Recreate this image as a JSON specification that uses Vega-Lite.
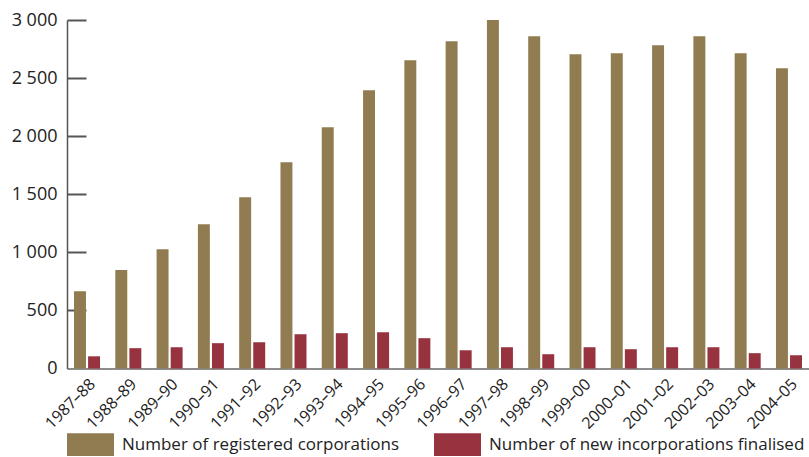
{
  "$schema": "https://vega.github.io/schema/vega-lite/v6.json",
  "width": 742,
  "height": 348.5,
  "autosize": {"type": "none"},
  "padding": {"left": 67, "top": 20, "right": 0, "bottom": 88.5},
  "config": {
    "view": {"stroke": null},
    "font": "Open Sans",
    "axis": {"grid": false}
  },
  "data": {
    "values": [
      {"year": "1987–88", "series": "Number of registered corporations", "value": 665},
      {"year": "1987–88", "series": "Number of new incorporations finalised", "value": 105},
      {"year": "1988–89", "series": "Number of registered corporations", "value": 848},
      {"year": "1988–89", "series": "Number of new incorporations finalised", "value": 175},
      {"year": "1989–90", "series": "Number of registered corporations", "value": 1027},
      {"year": "1989–90", "series": "Number of new incorporations finalised", "value": 183},
      {"year": "1990–91", "series": "Number of registered corporations", "value": 1242},
      {"year": "1990–91", "series": "Number of new incorporations finalised", "value": 218},
      {"year": "1991–92", "series": "Number of registered corporations", "value": 1474},
      {"year": "1991–92", "series": "Number of new incorporations finalised", "value": 226},
      {"year": "1992–93", "series": "Number of registered corporations", "value": 1775},
      {"year": "1992–93", "series": "Number of new incorporations finalised", "value": 295},
      {"year": "1993–94", "series": "Number of registered corporations", "value": 2077},
      {"year": "1993–94", "series": "Number of new incorporations finalised", "value": 304},
      {"year": "1994–95", "series": "Number of registered corporations", "value": 2395},
      {"year": "1994–95", "series": "Number of new incorporations finalised", "value": 312},
      {"year": "1995–96", "series": "Number of registered corporations", "value": 2653},
      {"year": "1995–96", "series": "Number of new incorporations finalised", "value": 261},
      {"year": "1996–97", "series": "Number of registered corporations", "value": 2817},
      {"year": "1996–97", "series": "Number of new incorporations finalised", "value": 157},
      {"year": "1997–98", "series": "Number of registered corporations", "value": 3000},
      {"year": "1997–98", "series": "Number of new incorporations finalised", "value": 183},
      {"year": "1998–99", "series": "Number of registered corporations", "value": 2860},
      {"year": "1998–99", "series": "Number of new incorporations finalised", "value": 123},
      {"year": "1999–00", "series": "Number of registered corporations", "value": 2705},
      {"year": "1999–00", "series": "Number of new incorporations finalised", "value": 183},
      {"year": "2000–01", "series": "Number of registered corporations", "value": 2714},
      {"year": "2000–01", "series": "Number of new incorporations finalised", "value": 166},
      {"year": "2001–02", "series": "Number of registered corporations", "value": 2782},
      {"year": "2001–02", "series": "Number of new incorporations finalised", "value": 183},
      {"year": "2002–03", "series": "Number of registered corporations", "value": 2860},
      {"year": "2002–03", "series": "Number of new incorporations finalised", "value": 183},
      {"year": "2003–04", "series": "Number of registered corporations", "value": 2714},
      {"year": "2003–04", "series": "Number of new incorporations finalised", "value": 132},
      {"year": "2004–05", "series": "Number of registered corporations", "value": 2584},
      {"year": "2004–05", "series": "Number of new incorporations finalised", "value": 114}
    ]
  },
  "encoding": {
    "x": {
      "field": "year",
      "type": "nominal",
      "sort": null,
      "scale": {"paddingInner": 0.37, "paddingOuter": 0.17},
      "axis": {
        "title": null,
        "labelAngle": -45,
        "labelFontSize": 16,
        "labelColor": "#222",
        "ticks": false,
        "labelPadding": 7,
        "domainColor": "#666",
        "domainWidth": 1.5
      }
    },
    "xOffset": {
      "field": "series",
      "type": "nominal",
      "scale": {
        "domain": ["Number of registered corporations", "Number of new incorporations finalised"],
        "paddingInner": 0.15,
        "paddingOuter": 0
      }
    },
    "color": {
      "field": "series",
      "type": "nominal",
      "scale": {
        "domain": ["Number of registered corporations", "Number of new incorporations finalised"],
        "range": ["#917C51", "#97323F"]
      },
      "legend": {
        "title": null,
        "orient": "none",
        "legendX": 0,
        "legendY": 401,
        "direction": "horizontal",
        "symbolType": "M-1,-0.48H1V0.48H-1Z",
        "symbolSize": 2209,
        "symbolStrokeWidth": 0,
        "labelFontSize": 17,
        "labelColor": "#222",
        "labelOffset": 8,
        "labelLimit": 500,
        "columnPadding": 34
      }
    }
  },
  "layer": [
    {
      "transform": [{"filter": "datum.series === 'Number of registered corporations'"}],
      "mark": {"type": "bar"},
      "encoding": {
        "y": {
          "field": "value",
          "type": "quantitative",
          "scale": {"domain": [0, 3000], "nice": false},
          "axis": {
            "title": null,
            "orient": "left",
            "values": [0, 500, 1000, 1500, 2000, 2500, 3000],
            "ticks": true,
            "tickSize": 0,
            "tickWidth": 2,
            "tickColor": "#555",
            "labelPadding": 10,
            "labelFontSize": 18,
            "labelColor": "#222",
            "domainColor": "#555",
            "domainWidth": 1.5,
            "labelExpr": "replace(format(datum.value, ','), ',', ' ')"
          }
        }
      }
    },
    {
      "transform": [{"filter": "datum.series === 'Number of new incorporations finalised'"}],
      "mark": {"type": "bar"},
      "encoding": {
        "y": {
          "field": "value",
          "type": "quantitative",
          "scale": {"domain": [0, 3000], "nice": false},
          "axis": {
            "title": null,
            "orient": "left",
            "offset": -19,
            "values": [500, 1000, 1500, 2000, 2500, 3000],
            "domain": false,
            "labels": false,
            "ticks": true,
            "tickSize": 19,
            "tickWidth": 2,
            "tickColor": "#555"
          }
        }
      }
    }
  ],
  "resolve": {"axis": {"y": "independent"}}
}
